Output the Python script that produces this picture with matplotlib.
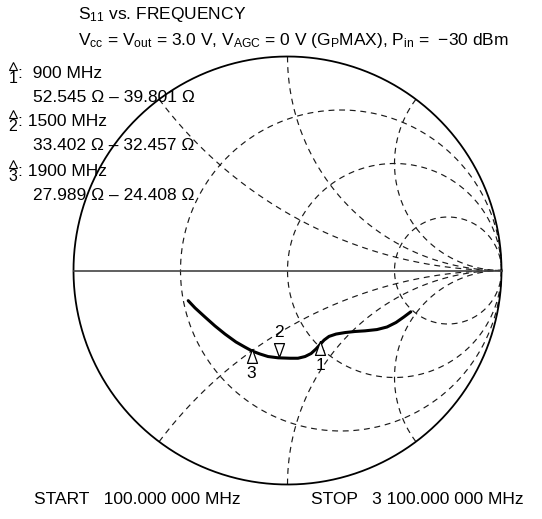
import numpy as np
import matplotlib
matplotlib.use("Agg")
import matplotlib.pyplot as plt

plt.rcParams["font.family"] = ["Liberation Sans", "DejaVu Sans"]
plt.rcParams["mathtext.fontset"] = "custom"
plt.rcParams["mathtext.rm"] = "Liberation Sans"
plt.rcParams["mathtext.it"] = "Liberation Sans"

W, H = 542, 519
CX, CY, RAD = 287.5, 270.5, 214.0   # chart centre / radius in pixels
FS = 12.5

# grid circles of the Smith chart
r_grid = [1 / 3, 1.0, 3.0]
x_grid = [0.5, 1.0, 2.0, -0.5, -1.0, -2.0]

# S11 trace (reflection coefficient)
s11_re = [-0.464, -0.432, -0.386, -0.339, -0.292, -0.241, -0.199, -0.166, -0.129,
          -0.091, -0.044, 0.012, 0.049, 0.082, 0.110, 0.133, 0.152, 0.171, 0.194,
          0.227, 0.269, 0.315, 0.362, 0.418, 0.465, 0.507, 0.544, 0.576]
s11_im = [-0.141, -0.175, -0.217, -0.259, -0.297, -0.334, -0.358, -0.376, -0.390,
          -0.402, -0.408, -0.410, -0.410, -0.402, -0.388, -0.367, -0.346, -0.325,
          -0.308, -0.297, -0.290, -0.285, -0.282, -0.276, -0.264, -0.243, -0.217,
          -0.193]

# marker readout
mk_freq = ["900", "1500", "1900"]
mk_r = [52.545, 33.402, 27.989]
mk_x = [-39.801, -32.457, -24.408]
mk_up = [True, False, True]
Z0 = 50.0


def px(x, y):
    return x / W, 1 - y / H


def gamma(z):
    return (z - 1) / (z + 1)


fig = plt.figure(figsize=(W / 100, H / 100), dpi=100)
ax = fig.add_axes([0, 0, 1, 1])
ax.set_xlim(-CX / RAD, (W - CX) / RAD)
ax.set_ylim((CY - H) / RAD, CY / RAD)
ax.axis("off")

dash = dict(color="#1a1a1a", lw=0.85, ls=(0, (5, 4)))
t = np.linspace(-np.pi / 2 + 1e-4, np.pi / 2 - 1e-4, 2000)
for r in r_grid:
    g = gamma(r + 1j * np.tan(t))
    ax.plot(g.real, g.imag, **dash)
t2 = np.linspace(0, np.pi / 2 - 1e-4, 2000)
for x in x_grid:
    g = gamma(np.tan(t2) + 1j * x)
    ax.plot(g.real, g.imag, **dash)

a = np.linspace(0, 2 * np.pi, 720)
ax.plot(np.cos(a), np.sin(a), color="black", lw=1.3)
ax.plot([-1, 1], [0, 0], color="#444444", lw=1.2)

ax.plot(s11_re, s11_im, color="black", lw=2.2, solid_capstyle="round",
        solid_joinstyle="round")

tri_up = [(0, 0), (-0.36, -1), (0.36, -1), (0, 0)]
tri_dn = [(0, 0), (-0.36, 1), (0.36, 1), (0, 0)]
for i in range(len(mk_freq)):
    g = gamma(complex(mk_r[i], mk_x[i]) / Z0)
    ax.plot(g.real, g.imag, marker=tri_up if mk_up[i] else tri_dn, ms=20,
            mfc="white", mec="black", mew=0.9, zorder=5)
    ax.annotate(str(i + 1), (g.real, g.imag), xytext=(0, -25 if mk_up[i] else 25),
                textcoords="offset pixels", ha="center", va="center", fontsize=FS)

fig.text(*px(78, 15), r"S$_{\mathregular{11}}$ vs. FREQUENCY", fontsize=FS, va="center")
fig.text(*px(78, 40),
         r"V$_{\mathregular{cc}}$ = V$_{\mathregular{out}}$ = 3.0 V, V$_{\mathregular{AGC}}$ = 0 V "
         r"(G$_{\mathregular{P}}$MAX), P$_{\mathregular{in}}$ =  $-$30 dBm",
         fontsize=FS, va="center")

# marker readout block, top left
rows = [66, 114, 164]
for i in range(len(mk_freq)):
    y = rows[i]
    ax.plot((13 - CX) / RAD, (CY - y) / RAD, marker="^", ms=6, mfc="none",
            mec="black", mew=0.8, clip_on=False)
    fig.text(*px(13, y + 17), str(i + 1), fontsize=11.5, ha="center", va="baseline")
    sp = "  " if len(mk_freq[i]) < 4 else " "
    fig.text(*px(18, y + 7), ":" + sp + mk_freq[i] + " MHz", fontsize=FS, va="center")
    fig.text(*px(33, y + 31),
             f"{mk_r[i]:.3f} \u03a9 \u2013 {-mk_x[i]:.3f} \u03a9", fontsize=FS, va="center")

fig.text(*px(34, 499), "START   100.000 000 MHz", fontsize=FS, va="center")
fig.text(*px(311, 499), "STOP   3 100.000 000 MHz", fontsize=FS, va="center")

fig.savefig("out.png", dpi=100)
